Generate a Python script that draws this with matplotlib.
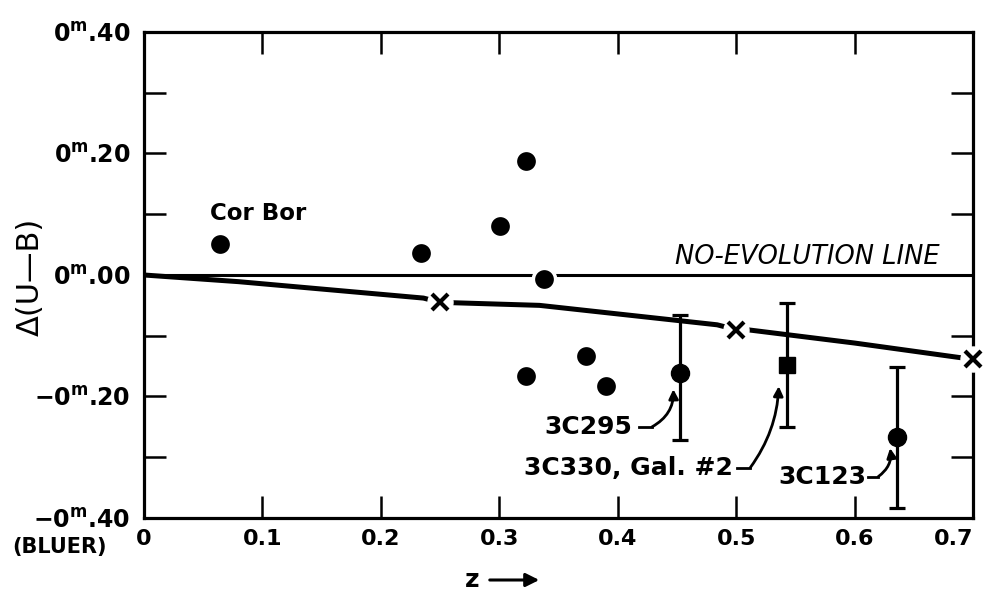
import matplotlib
matplotlib.use("Agg")
import matplotlib.pyplot as plt
import numpy as np

plt.rcParams['font.family'] = ['DejaVu Sans']
plt.rcParams['font.weight'] = 'bold'
plt.rcParams['mathtext.fontset'] = 'custom'
plt.rcParams['mathtext.rm'] = 'DejaVu Sans:bold'
plt.rcParams['mathtext.bf'] = 'DejaVu Sans:bold'
plt.rcParams['mathtext.it'] = 'DejaVu Sans:bold'
plt.rcParams['mathtext.default'] = 'rm'

# galaxies without error bars
z_pts = [0.064, 0.234, 0.301, 0.323, 0.338, 0.323, 0.373, 0.390]
dub_pts = [0.051, 0.036, 0.081, 0.188, -0.007, -0.166, -0.133, -0.183]

# radio galaxies with error bars
z_err = [0.453, 0.636]
dub_err = [-0.161, -0.267]
err_lo = [0.111, 0.117]
err_hi = [0.095, 0.116]

# 3C330 Gal #2 (square)
z_sq = [0.543]
dub_sq = [-0.148]
sq_lo = [0.102]
sq_hi = [0.102]

# evolution model curve and its marked points
z_curve = [0.0, 0.08, 0.236, 0.25, 0.334, 0.484, 0.5, 0.509, 0.60, 0.689, 0.70]
dub_curve = [0.0, -0.011, -0.038, -0.045, -0.050, -0.082, -0.090, -0.090, -0.112, -0.136, -0.138]
z_x = [0.25, 0.5, 0.70]
dub_x = [-0.045, -0.090, -0.138]

# no-evolution line
z_noev = [0.0, 0.70]
dub_noev = [0.0, 0.0]

xticks = [0, 0.1, 0.2, 0.3, 0.4, 0.5, 0.6, 0.7]
xticklabels = ['0', '0.1', '0.2', '0.3', '0.4', '0.5', '0.6', '0.7']
yticks = [0.40, 0.20, 0.0, -0.20, -0.40]
yticklabels = [r'0$^{\mathrm{m}}$.40', r'0$^{\mathrm{m}}$.20', r'0$^{\mathrm{m}}$.00',
               r'−0$^{\mathrm{m}}$.20', r'−0$^{\mathrm{m}}$.40']

fig = plt.figure(figsize=(9.84, 5.96), dpi=100)
ax = fig.add_axes([0.1463, 0.1309, 0.8425, 0.8154])
ax.set_xlim(0, 0.70)
ax.set_ylim(-0.40, 0.40)

lw_sp = 2.3
for s in ax.spines.values():
    s.set_linewidth(lw_sp)

ax.set_xticks(xticks)
ax.set_xticklabels(xticklabels, fontsize=16, fontweight='bold')
ax.get_xticklabels()[-1].set_ha('right')
ax.set_yticks(yticks)
ax.set_yticklabels(yticklabels, fontsize=17, fontweight='bold')
ax.set_yticks(np.round(np.arange(-0.3, 0.31, 0.2), 2), minor=True)
ax.tick_params(axis='both', which='both', direction='in', length=16, width=1.8,
               top=True, right=True)
ax.tick_params(axis='x', pad=8)
ax.tick_params(axis='y', pad=10)

# lines
ax.plot(z_noev, dub_noev, color='black', lw=2.2, zorder=2)
ax.plot(z_curve, dub_curve, color='black', lw=3.6, zorder=3, solid_capstyle='butt')
ax.plot(z_x, dub_x, linestyle='none', marker='o', ms=18, mfc='white', mec='white', zorder=4, clip_on=False)
ax.plot(z_x, dub_x, linestyle='none', marker='x', ms=12, mew=3, color='black', zorder=5, clip_on=False)

# points
ax.plot(z_pts, dub_pts, linestyle='none', marker='o', ms=16, mfc='black', mec='white', mew=2.5, zorder=6)
ax.errorbar(z_err, dub_err, yerr=[err_lo, err_hi], fmt='o', ms=13, color='black',
            elinewidth=2.3, capsize=5.5, capthick=2.3, zorder=6)
ax.errorbar(z_sq, dub_sq, yerr=[sq_lo, sq_hi], fmt='s', ms=11, color='black',
            elinewidth=2.3, capsize=5.5, capthick=2.3, zorder=6)

# labels
ax.text(0.056, 0.101, 'Cor Bor', fontsize=16.5, fontweight='bold', ha='left', va='center')
ax.text(0.672, 0.030, 'NO-EVOLUTION LINE', fontsize=18.5, fontstyle='italic',
        fontweight='normal', ha='right', va='center')

def leader(text, tx, ty, ha, dash, tip, rad):
    ax.text(tx, ty, text, fontsize=18, fontweight='bold', ha=ha, va='center')
    ax.plot([dash[0], dash[1]], [ty, ty], color='black', lw=2)
    ax.annotate('', xy=tip, xytext=(dash[1], ty),
                arrowprops=dict(arrowstyle='-|>', color='black', lw=2,
                                mutation_scale=14,
                                connectionstyle=f'arc3,rad={rad}',
                                shrinkA=0, shrinkB=0))

leader('3C295', 0.412, -0.250, 'right', (0.418, 0.429), (0.447, -0.188), 0.3)
leader('3C330, Gal. #2', 0.497, -0.317, 'right', (0.501, 0.512), (0.536, -0.183), 0.15)
leader('3C123', 0.536, -0.332, 'left', (0.611, 0.620), (0.630, -0.285), 0.3)

# axis labels
fig.text(30 / 984, 1 - 277 / 596, 'Δ(U—B)', rotation=90, fontsize=22, fontweight='normal',
         ha='center', va='center')
fig.text(60 / 984, 1 - 547 / 596, '(BLUER)', fontsize=15, fontweight='bold', ha='center', va='center')
fig.text(472 / 984, 1 - 580 / 596, 'z', fontsize=18, fontweight='bold', ha='center', va='center')
fig.patches.append(matplotlib.patches.FancyArrowPatch(
    (487 / 984, 1 - 580 / 596), (542 / 984, 1 - 580 / 596), transform=fig.transFigure,
    arrowstyle='-|>', mutation_scale=20, lw=2.2, color='black'))

fig.savefig('out.png', dpi=100)
